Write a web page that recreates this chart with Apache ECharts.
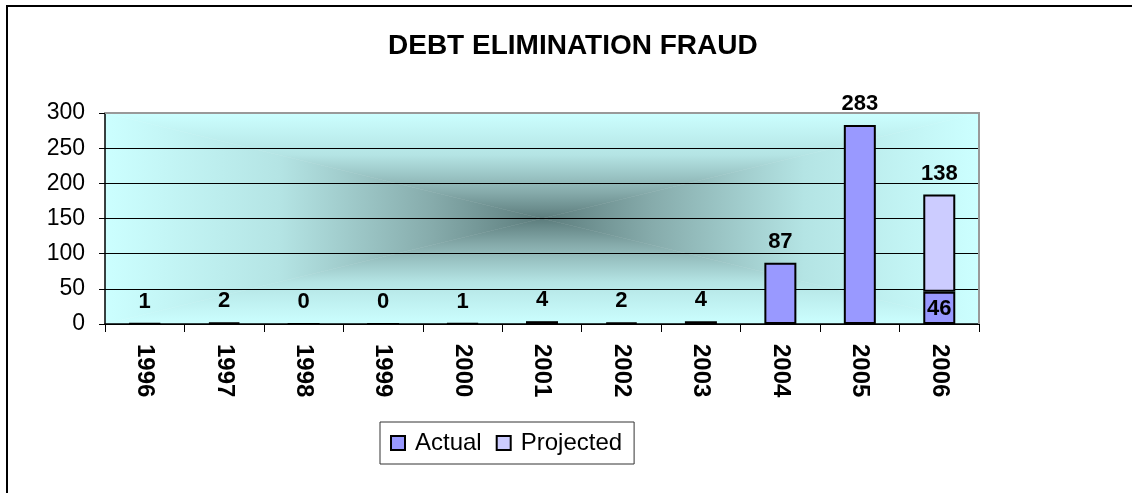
<!DOCTYPE html>
<html>
<head>
<meta charset="utf-8">
<script src="https://cdn.jsdelivr.net/npm/echarts@6/dist/echarts.min.js"></script>
<style>
    html, body { margin: 0; padding: 0; background: #fff; }
    #chart { width: 1132px; height: 493px; }
</style>
</head>
<body>
<div id="chart"></div>
<script>
// 年份与两组数值
const years = ["1996", "1997", "1998", "1999", "2000", "2001", "2002", "2003", "2004", "2005", "2006"];
const actual = [1, 2, 0, 0, 1, 4, 2, 4, 87, 283, 46];
const projected = [null, null, null, null, null, null, null, null, null, null, 138];
const yTicks = [0, 50, 100, 150, 200, 250, 300];

// 绘图区位置（像素）
const plot = { left: 105, top: 113, right: 979, bottom: 324 };
const cx = (plot.left + plot.right) / 2;
const cy = (plot.top + plot.bottom) / 2;
const font = "'Liberation Sans', Arial, sans-serif";

// 从中心向外的渐变：四个三角形拼成
function grad(x2, y2, reverse) {
    const stops = [
        { offset: 0, color: "#CCFFFF" },
        { offset: 0.4, color: "#B4E4E4" },
        { offset: 0.75, color: "#86ABAB" },
        { offset: 1, color: "#5C7C7C" }
    ];
    const list = reverse ? stops.map(s => ({ offset: 1 - s.offset, color: s.color })).reverse() : stops;
    return new echarts.graphic.LinearGradient(0, 0, x2, y2, list);
}
function tri(points, fill) {
    return { type: "polygon", z: -10, silent: true, shape: { points }, style: { fill, stroke: fill, lineWidth: 0.5 } };
}
const background = [
    tri([[plot.left, plot.top], [plot.right, plot.top], [cx, cy]], grad(0, 1, false)),
    tri([[plot.left, plot.bottom], [plot.right, plot.bottom], [cx, cy]], grad(0, 1, true)),
    tri([[plot.left, plot.top], [plot.left, plot.bottom], [cx, cy]], grad(1, 0, false)),
    tri([[plot.right, plot.top], [plot.right, plot.bottom], [cx, cy]], grad(1, 0, true))
];

const insideIndex = actual.length - 1;
const actualData = actual.map((v, i) => i === insideIndex
    ? { value: v, label: { position: "insideBottom", distance: 4 } }
    : v);

const labelStyle = { show: true, color: "#000", fontFamily: font, fontWeight: "bold", fontSize: 22 };

const chart = echarts.init(document.getElementById("chart"));
chart.setOption({
    animation: false,
    title: {
        text: "DEBT ELIMINATION FRAUD",
        left: 383, top: 27,
        textStyle: { fontFamily: font, fontWeight: "bold", fontSize: 28, color: "#000" }
    },
    graphic: [
        { type: "rect", z: -20, silent: true, shape: { x: 7, y: 6, width: 1300, height: 700 },
          style: { fill: "#fff", stroke: "#000", lineWidth: 2 } },
        ...background,
        { type: "polyline", z: 5, silent: true,
          shape: { points: [[plot.left, plot.top], [plot.right, plot.top], [plot.right, plot.bottom]] },
          style: { stroke: "#999", lineWidth: 2, fill: null } }
    ],
    legend: {
        left: 380, top: 422,
        padding: [9, 12, 9, 10],
        borderColor: "#333", borderWidth: 1,
        itemWidth: 14, itemHeight: 14, itemGap: 14,
        icon: "rect",
        textStyle: { fontFamily: font, fontSize: 24, color: "#000", padding: [0, 0, 0, 5] },
        data: ["Actual", "Projected"]
    },
    grid: {
        left: plot.left, top: plot.top,
        right: 1132 - plot.right, bottom: 493 - plot.bottom,
        containLabel: false
    },
    xAxis: {
        type: "category",
        data: years,
        axisLine: { lineStyle: { color: "#000", width: 1.5 } },
        axisTick: { show: true, length: 8, lineStyle: { color: "#000" } },
        axisLabel: {
            rotate: -90, margin: 20, color: "#000",
            fontFamily: font, fontWeight: "bold", fontSize: 24
        }
    },
    yAxis: {
        type: "value",
        min: yTicks[0], max: yTicks[yTicks.length - 1], interval: 50,
        axisLine: { show: true, lineStyle: { color: "#000", width: 1.5 } },
        axisTick: { show: true, length: 6, lineStyle: { color: "#000" } },
        axisLabel: { margin: 20, color: "#000", fontFamily: font, fontSize: 23 },
        splitLine: {
            lineStyle: { color: yTicks.map((t, i) => i === yTicks.length - 1 ? "rgba(0,0,0,0)" : "#000"), width: 1 }
        }
    },
    series: [
        {
            name: "Actual", type: "bar", stack: "total",
            barWidth: 32,
            data: actualData,
            itemStyle: { color: "#9999FF", borderColor: "#000", borderWidth: 2 },
            label: { ...labelStyle, position: "top", distance: 10 }
        },
        {
            name: "Projected", type: "bar", stack: "total",
            barWidth: 32,
            data: projected,
            itemStyle: { color: "#CCCCFF", borderColor: "#000", borderWidth: 2 },
            label: { ...labelStyle, position: "top", distance: 10 }
        }
    ]
});
</script>
</body>
</html>
